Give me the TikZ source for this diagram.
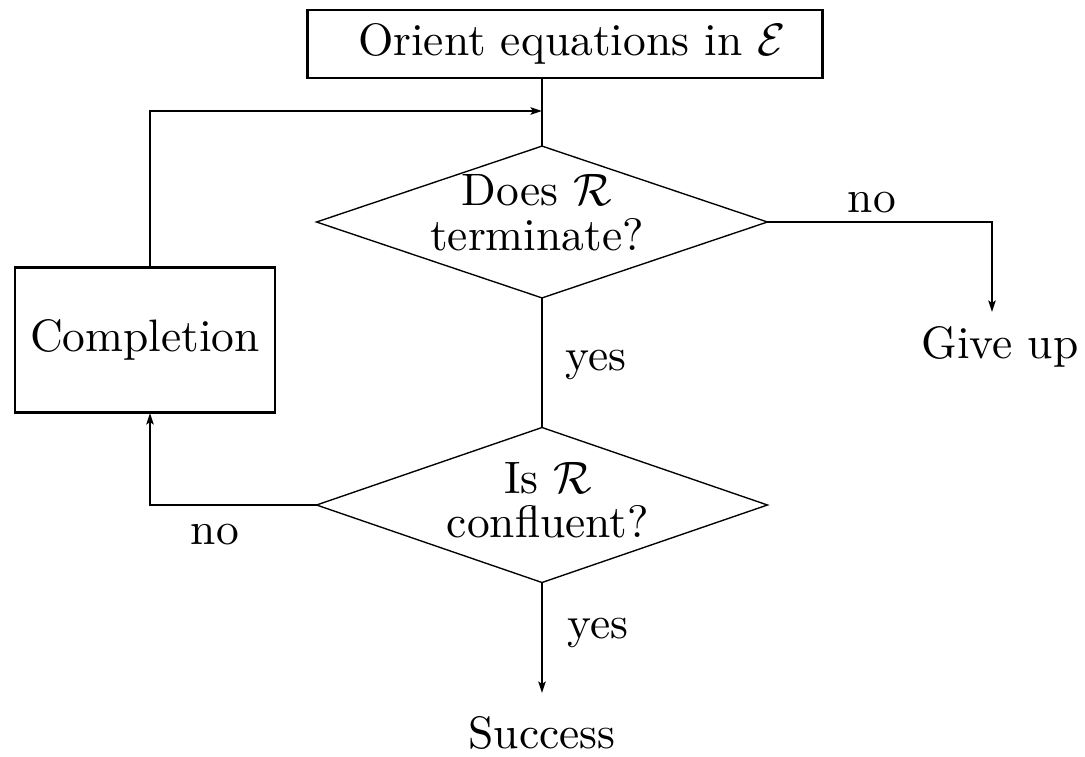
\documentclass[tikz,border=0pt]{standalone}
\usetikzlibrary{shapes.geometric,arrows.meta}
\begin{document}
\begin{tikzpicture}[x=0.22pt,y=-0.22pt,
  box/.style={draw, line width=0.65pt, inner sep=0pt, outer sep=0pt},
  dia/.style={draw, diamond, line width=0.3pt, inner sep=0pt, outer sep=0pt},
  conn/.style={line width=0.65pt},
  arr/.style={conn, -{Stealth[length=2.5pt,width=1.6pt,inset=0.5pt]}},
  txt/.style={inner sep=0pt, align=center},
  lbl/.style={inner sep=0pt, anchor=base west}]
\useasboundingbox (0,0) rectangle (1085,756);
% nodes
\node[box, minimum width=113.5pt, minimum height=14.96pt] (top) at (565,44) {\hspace{3pt}Orient equations in $\mathcal{E}$};
\node[dia, minimum width=99.2pt, minimum height=33.4pt] (d1) at (542,222) {};
\node[txt] (d1t) at (537,213) {Does $\mathcal{R}$\\[-2.1pt]terminate?};
\node[dia, minimum width=99.2pt, minimum height=34.1pt] (d2) at (542,505) {};
\node[txt] (d2t) at (548,500) {Is $\mathcal{R}$\\[-2.3pt]confluent?};
\node[box, minimum width=57.2pt, minimum height=32.1pt] (comp) at (145,340) {Completion};
\node[inner sep=0pt, anchor=base] (gu) at (1000,358) {Give up};
\node[inner sep=0pt, anchor=base] (succ) at (542,748) {Success};
\coordinate (m) at (542,111);
\coordinate (gt) at (992,312);
\coordinate (st) at (542,693);
% connectors
\draw[conn] (top.south -| d1.north) -- (d1.north);
\draw[arr] ([xshift=1.1pt]comp.north) |- (m);
\draw[conn] (d1.south) -- (d2.north);
\draw[arr] (d1.east) -| (gt);
\draw[arr] (d2.west) -| ([xshift=1.1pt]comp.south);
\draw[arr] (d2.south) -- (st);
% labels
\node[lbl] (no1) at (847,212) {no};
\node[lbl] (yes1) at (565,370) {yes};
\node[lbl] (no2) at (190,544) {no};
\node[lbl] (yes2) at (567,638) {yes};
\end{tikzpicture}
\end{document}
